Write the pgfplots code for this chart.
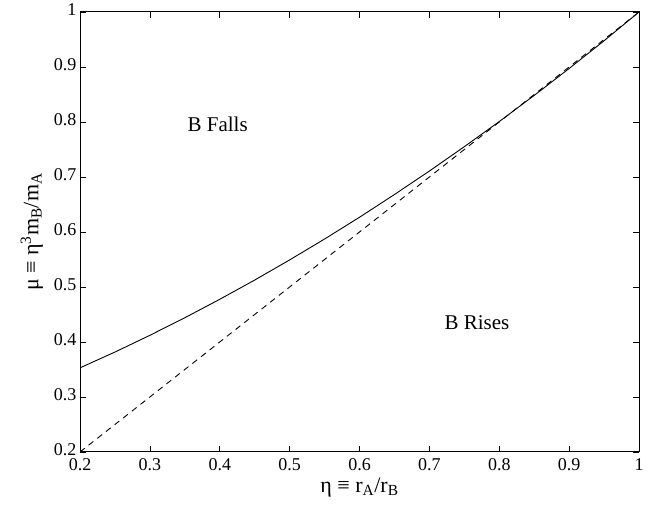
\documentclass[border=0pt]{standalone}
\usepackage{pgfplots}
\pgfplotsset{compat=1.18}
\usepackage{fontspec}
\setmainfont{Liberation Serif}
\begin{document}
\begin{tikzpicture}
\begin{axis}[
  width=559pt, height=440pt, scale only axis,
  xmin=0.2, xmax=1, ymin=0.2, ymax=1,
  xtick={0.2,0.3,...,1.0}, ytick={0.2,0.3,...,1.0},
  tick align=inside, tick pos=both,
  major tick length=6pt,
  /pgf/number format/assume math mode=true,
  /pgf/number format/fixed,
  tick label style={font=\fontsize{18}{20}\selectfont},
  xticklabel style={yshift=-3pt},
  yticklabel style={xshift=0pt, yshift=2pt},
  axis line style={line width=1pt},
  every tick/.style={black, line width=0.7pt},
  xlabel={η ≡ r\textsubscript{A}/r\textsubscript{B}},
  ylabel={μ ≡ η\textsuperscript{3}m\textsubscript{B}/m\textsubscript{A}},
  label style={font=\fontsize{22}{24}\selectfont},
  xlabel style={yshift=0pt},
  ylabel style={yshift=4pt},
  clip=true,
]
\addplot[black, line width=0.9pt] coordinates {
(0.20,0.3530) (0.25,0.3817) (0.30,0.4121) (0.35,0.4441) (0.40,0.4776)
(0.45,0.5126) (0.50,0.5492) (0.55,0.5872) (0.60,0.6268) (0.65,0.6681)
(0.70,0.7108) (0.75,0.7551) (0.80,0.8008) (0.85,0.8483) (0.90,0.8972)
(0.95,0.9477) (1.00,1.0000)
};
\addplot[black, line width=0.9pt, dash pattern=on 6pt off 5pt] coordinates {
(0.2,0.2) (1.0,1.0)
};
\node[font=\fontsize{21}{23}\selectfont] at (axis cs:0.397,0.795) {B Falls};
\node[font=\fontsize{21}{23}\selectfont] at (axis cs:0.768,0.435) {B Rises};
\end{axis}
\path (current axis.south west) ++(-80pt,-58pt) (current axis.north east) ++(20pt,12pt);
\end{tikzpicture}
\end{document}
